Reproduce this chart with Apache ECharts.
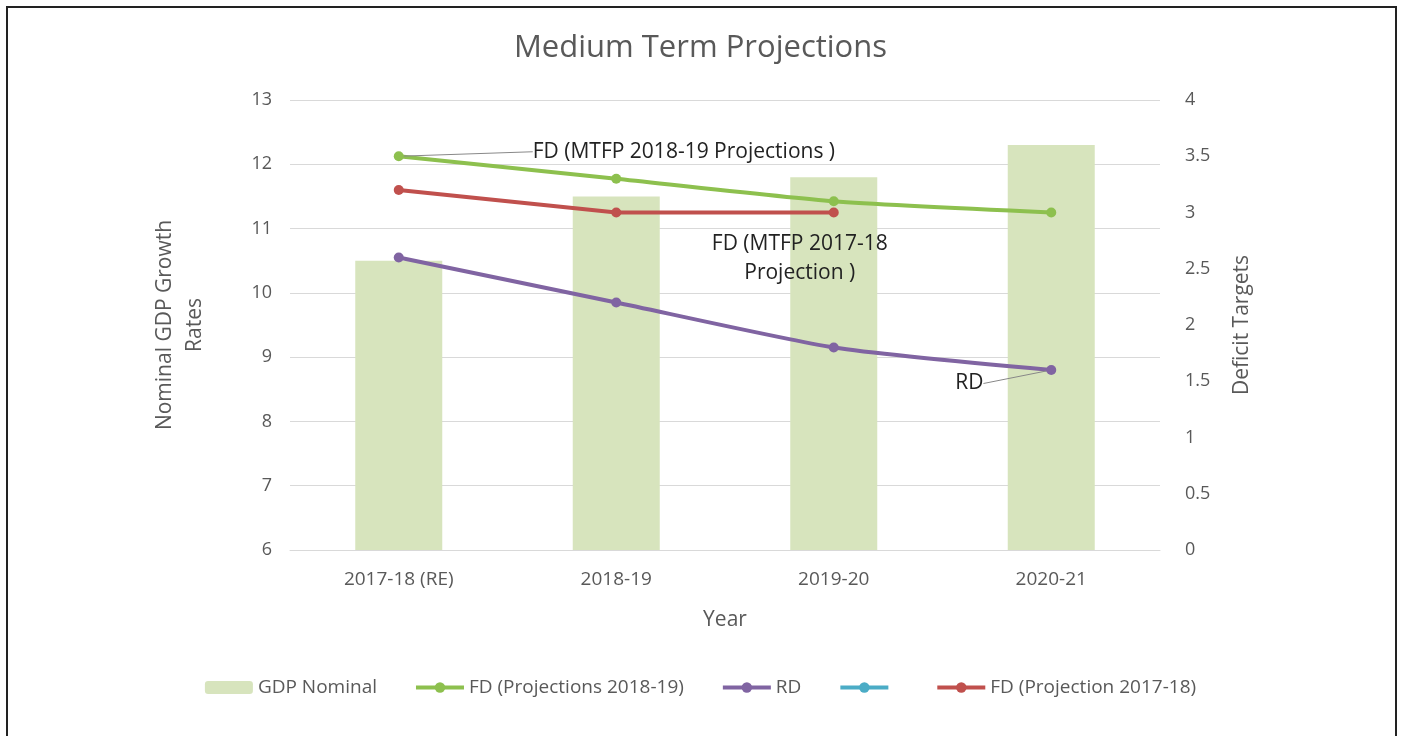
<!DOCTYPE html>
<html>
<head>
<meta charset="utf-8">
<script src="https://cdn.jsdelivr.net/npm/echarts@6/dist/echarts.min.js"></script>
<style>
html,body{margin:0;padding:0;background:#fff;width:1401px;height:736px;overflow:hidden;}
#frame{position:absolute;left:6px;top:6px;width:1387px;height:740px;border-left:2px solid #222;border-top:2px solid #222;border-right:2px solid #222;}
#chart{position:absolute;left:0;top:0;width:1401px;height:736px;}
</style>
</head>
<body>
<div id="frame"></div>
<div id="chart"></div>
<script>
const categories = ['2017-18 (RE)', '2018-19', '2019-20', '2020-21'];
const gdpNominal = [10.5, 11.5, 11.8, 12.3];
const fd201819 = [3.5, 3.3, 3.1, 3.0];
const rd = [2.6, 2.2, 1.8, 1.6];
const blankSeries = [null, null, null, null];
const fd201718 = [3.2, 3.0, 3.0, null];
const leftTicks = [6, 13, 1];
const rightTicks = [0, 4, 0.5];

const txt = '#595959';
const annFont = 21;
const chart = echarts.init(document.getElementById('chart'));

function labelled(arr, idx, text, extra) {
  return arr.map((v, i) => i === idx ? {
    value: v,
    label: Object.assign({show: true, formatter: text, color: '#222', fontSize: annFont, fontFamily: 'Open Sans'}, extra || {}),
    labelLine: {show: true, lineStyle: {color: '#888', width: 1}}
  } : v);
}

const option = {
  animation: false,
  textStyle: {fontFamily: 'Open Sans'},
  title: {
    text: 'Medium Term Projections',
    left: 'center', top: 28,
    textStyle: {fontSize: 31, fontWeight: 'normal', color: txt, fontFamily: 'Open Sans'}
  },
  grid: {left: 290, right: 241, top: 100, bottom: 186},
  legend: {
    bottom: 34, left: 'center',
    itemWidth: 48, itemHeight: 13, itemGap: 37,
    lineStyle: {width: 4},
    textStyle: {fontSize: 19, color: txt},
    data: ['GDP Nominal', 'FD (Projections 2018-19)', 'RD', ' ', 'FD (Projection 2017-18)']
  },
  xAxis: {
    type: 'category', data: categories,
    name: 'Year', nameLocation: 'middle', nameGap: 60,
    nameTextStyle: {fontSize: 21, color: txt},
    axisLine: {lineStyle: {color: '#D9D9D9', width: 1}},
    axisTick: {show: false},
    axisLabel: {fontSize: 19, color: txt, margin: 20}
  },
  yAxis: [{
    type: 'value', min: leftTicks[0], max: leftTicks[1], interval: leftTicks[2],
    name: 'Nominal GDP Growth\nRates', nameLocation: 'middle', nameGap: 80, nameRotate: 90,
    nameTextStyle: {fontSize: 21, color: txt, lineHeight: 30},
    axisLine: {show: false}, axisTick: {show: false},
    axisLabel: {fontSize: 18, color: txt, margin: 18},
    splitLine: {lineStyle: {color: '#D9D9D9'}}
  }, {
    type: 'value', min: rightTicks[0], max: rightTicks[1], interval: rightTicks[2],
    name: 'Deficit Targets', nameLocation: 'middle', nameGap: 72, nameRotate: 90,
    nameTextStyle: {fontSize: 21, color: txt},
    axisLine: {show: false}, axisTick: {show: false},
    axisLabel: {fontSize: 18, color: txt, margin: 25},
    splitLine: {show: false}
  }],
  series: [{
    name: 'GDP Nominal', type: 'bar', data: gdpNominal, yAxisIndex: 0,
    barWidth: 87, itemStyle: {color: '#D7E4BD'}
  }, {
    name: 'FD (Projections 2018-19)', type: 'line', yAxisIndex: 1,
    data: labelled(fd201819, 0, 'FD (MTFP 2018-19 Projections )', {position: 'right'}),
    smooth: 0.2, symbol: 'circle', symbolSize: 10,
    lineStyle: {width: 4, color: '#8DC04E'}, itemStyle: {color: '#8DC04E'},
    labelLayout: function (p) { return p.dataIndex === 0 ? {x: p.rect.x + 139, y: p.rect.y - 10} : {}; },
    z: 3
  }, {
    name: 'RD', type: 'line', yAxisIndex: 1,
    data: labelled(rd, 3, 'RD', {position: 'left'}),
    smooth: 0.2, symbol: 'circle', symbolSize: 10,
    lineStyle: {width: 4, color: '#8064A2'}, itemStyle: {color: '#8064A2'},
    labelLayout: function (p) { return p.dataIndex === 3 ? {x: p.rect.x - 91, y: p.rect.y + 8} : {}; },
    z: 3
  }, {
    name: ' ', type: 'line', yAxisIndex: 1, data: blankSeries,
    symbol: 'circle', symbolSize: 10,
    lineStyle: {width: 4, color: '#4BACC6'}, itemStyle: {color: '#4BACC6'}
  }, {
    name: 'FD (Projection 2017-18)', type: 'line', yAxisIndex: 1,
    data: fd201718.map((v, i) => i === 2 ? {
      value: v,
      label: {show: true, formatter: 'FD (MTFP 2017-18\nProjection )', color: '#222', fontSize: annFont,
        fontFamily: 'Open Sans', align: 'center', lineHeight: 29, position: 'bottom', distance: 12, offset: [-34, 0]}
    } : v),
    symbol: 'circle', symbolSize: 10,
    lineStyle: {width: 4, color: '#C0504D'}, itemStyle: {color: '#C0504D'},
    z: 3
  }]
};
chart.setOption(option);
</script>
</body>
</html>
